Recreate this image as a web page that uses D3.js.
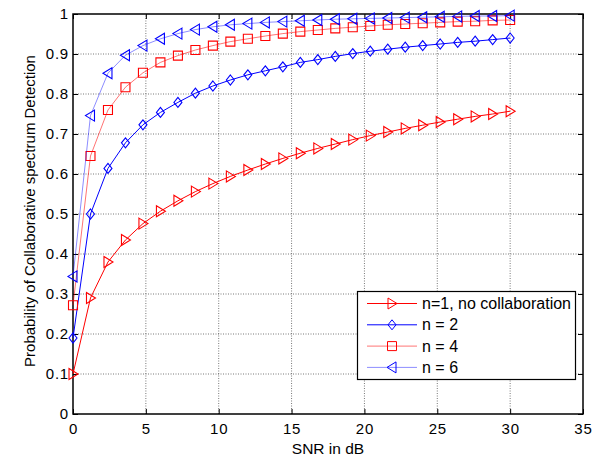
<!DOCTYPE html>
<html>
<head>
<meta charset="utf-8">
<script src="https://cdn.jsdelivr.net/npm/d3@7"></script>
<style>
  body { margin: 0; background: #fff; }
  text { font-family: "Liberation Sans", Arial, sans-serif; }
</style>
</head>
<body>
<svg id="chart" width="609" height="458"></svg>
<script>
const width = 609;
const height = 458;
const margin = {top: 14, right: 26, bottom: 44, left: 73};

// SNR in dB (0 to 30, step 1.2)
const snr = [0, 1.2, 2.4, 3.6, 4.8, 6, 7.2, 8.4, 9.6, 10.8, 12, 13.2, 14.4,
  15.6, 16.8, 18, 19.2, 20.4, 21.6, 22.8, 24, 25.2, 26.4, 27.6, 28.8, 30];

const pdN1 = [0.10, 0.29, 0.38, 0.435, 0.476, 0.507, 0.533, 0.556, 0.576, 0.594, 0.61, 0.625, 0.639,
  0.652, 0.664, 0.675, 0.686, 0.696, 0.705, 0.714, 0.722, 0.730, 0.737, 0.744, 0.750, 0.757];
const pdN2 = [0.19, 0.50, 0.614, 0.678, 0.723, 0.754, 0.779, 0.802, 0.82, 0.835, 0.848, 0.858, 0.868,
  0.879, 0.886, 0.894, 0.901, 0.907, 0.912, 0.917, 0.921, 0.925, 0.929, 0.932, 0.936, 0.940];
const pdN4 = [0.272, 0.645, 0.76, 0.817, 0.853, 0.879, 0.896, 0.91, 0.921, 0.931, 0.938, 0.945, 0.951,
  0.956, 0.96, 0.964, 0.967, 0.970, 0.973, 0.975, 0.977, 0.979, 0.981, 0.982, 0.984, 0.985];
const pdN6 = [0.344, 0.746, 0.852, 0.897, 0.921, 0.938, 0.951, 0.961, 0.968, 0.973, 0.976, 0.979, 0.981,
  0.983, 0.985, 0.987, 0.988, 0.989, 0.990, 0.991, 0.992, 0.993, 0.994, 0.995, 0.995, 0.996];

const seriesNames = ["n=1, no collaboration", "n = 2", "n = 4", "n = 6"];
const xTicks = [0, 5, 10, 15, 20, 25, 30, 35];
const yTicks = [0, 0.1, 0.2, 0.3, 0.4, 0.5, 0.6, 0.7, 0.8, 0.9, 1];

const series = [
  {name: seriesNames[0], values: pdN1, color: "#ff0000", lineOpacity: 1, marker: "right"},
  {name: seriesNames[1], values: pdN2, color: "#0000ff", lineOpacity: 1, marker: "diamond"},
  {name: seriesNames[2], values: pdN4, color: "#ff0000", lineOpacity: 0.55, marker: "square"},
  {name: seriesNames[3], values: pdN6, color: "#0000ff", lineOpacity: 0.45, marker: "left"}
];

const x = d3.scaleLinear().domain([0, 35]).range([margin.left, width - margin.right]);
const y = d3.scaleLinear().domain([0, 1]).range([height - margin.bottom, margin.top]);

const svg = d3.select("#chart");

// grille pointillée
const grid = svg.append("g")
  .attr("stroke", "#555")
  .attr("stroke-width", 0.8)
  .attr("stroke-dasharray", "1,1.5");
grid.selectAll("line.v")
  .data(xTicks.slice(1, -1))
  .enter().append("line")
  .attr("x1", d => x(d)).attr("x2", d => x(d))
  .attr("y1", y(0)).attr("y2", y(1));
grid.selectAll("line.h")
  .data(yTicks.slice(1, -1))
  .enter().append("line")
  .attr("x1", x(0)).attr("x2", x(35))
  .attr("y1", d => y(d)).attr("y2", d => y(d));

// axes (ticks inside, like MATLAB)
const fmt = d => d3.format("")(+d.toFixed(1));
const axisStyle = g => {
  g.select(".domain").remove();
  g.selectAll(".tick line").attr("stroke", "#000");
  g.selectAll(".tick text")
    .attr("font-size", 15)
    .attr("letter-spacing", 0.8)
    .attr("fill", "#000");
};
svg.append("g")
  .attr("transform", `translate(0,${y(0)})`)
  .call(d3.axisBottom(x).tickValues(xTicks).tickSize(-5).tickPadding(9).tickFormat(fmt))
  .call(axisStyle);
svg.append("g")
  .attr("transform", `translate(0,${y(1)})`)
  .call(d3.axisTop(x).tickValues(xTicks).tickSize(-5).tickFormat(""))
  .call(axisStyle);
svg.append("g")
  .attr("transform", `translate(${x(0)},0)`)
  .call(d3.axisLeft(y).tickValues(yTicks).tickSize(-5).tickPadding(4).tickFormat(fmt))
  .call(axisStyle);
svg.append("g")
  .attr("transform", `translate(${x(35)},0)`)
  .call(d3.axisRight(y).tickValues(yTicks).tickSize(-5).tickFormat(""))
  .call(axisStyle);

svg.append("rect")
  .attr("x", x(0)).attr("y", y(1))
  .attr("width", x(35) - x(0)).attr("height", y(0) - y(1))
  .attr("fill", "none").attr("stroke", "#000").attr("stroke-width", 1.5);

function markerPath(type) {
  switch (type) {
    case "right": return "M-4,-5.5L5,0L-4,5.5Z";
    case "left": return "M4,-5.5L-5,0L4,5.5Z";
    case "diamond": return "M0,-5L4,0L0,5L-4,0Z";
    case "square": return "M-4.5,-4.5H4.5V4.5H-4.5Z";
  }
}

const line = d3.line().x((d, i) => x(snr[i])).y(d => y(d));

series.forEach(s => {
  const g = svg.append("g");
  g.append("path")
    .attr("d", line(s.values))
    .attr("fill", "none")
    .attr("stroke", s.color)
    .attr("stroke-opacity", s.lineOpacity)
    .attr("stroke-width", 1);
  g.selectAll("path.m")
    .data(s.values)
    .enter().append("path")
    .attr("class", "m")
    .attr("transform", (d, i) => `translate(${x(snr[i])},${y(d)})`)
    .attr("d", markerPath(s.marker))
    .attr("fill", "none")
    .attr("stroke", s.color)
    .attr("stroke-width", 1.1);
});

// légende
const legend = svg.append("g");
legend.append("rect")
  .attr("x", 357.5).attr("y", 291.5)
  .attr("width", 218).attr("height", 88)
  .attr("fill", "#fff").attr("stroke", "#000").attr("stroke-width", 1.2);
series.forEach((s, i) => {
  const ly = 303.5 + i * 21.3;
  legend.append("line")
    .attr("x1", 367).attr("x2", 417).attr("y1", ly).attr("y2", ly)
    .attr("stroke", s.color).attr("stroke-opacity", s.lineOpacity);
  legend.append("path")
    .attr("transform", `translate(392,${ly})`)
    .attr("d", markerPath(s.marker))
    .attr("fill", "none").attr("stroke", s.color);
  legend.append("text")
    .attr("x", 422).attr("y", ly + 5.5)
    .attr("font-size", 16)
    .text(s.name);
});

// titres des axes
svg.append("text")
  .attr("x", x(17.5)).attr("y", 454)
  .attr("text-anchor", "middle").attr("font-size", 15.5)
  .text("SNR in dB");
svg.append("text")
  .attr("transform", `translate(35,211) rotate(-90)`)
  .attr("text-anchor", "middle").attr("font-size", 15)
  .text("Probability of Collaborative spectrum Detection");
</script>
</body>
</html>
